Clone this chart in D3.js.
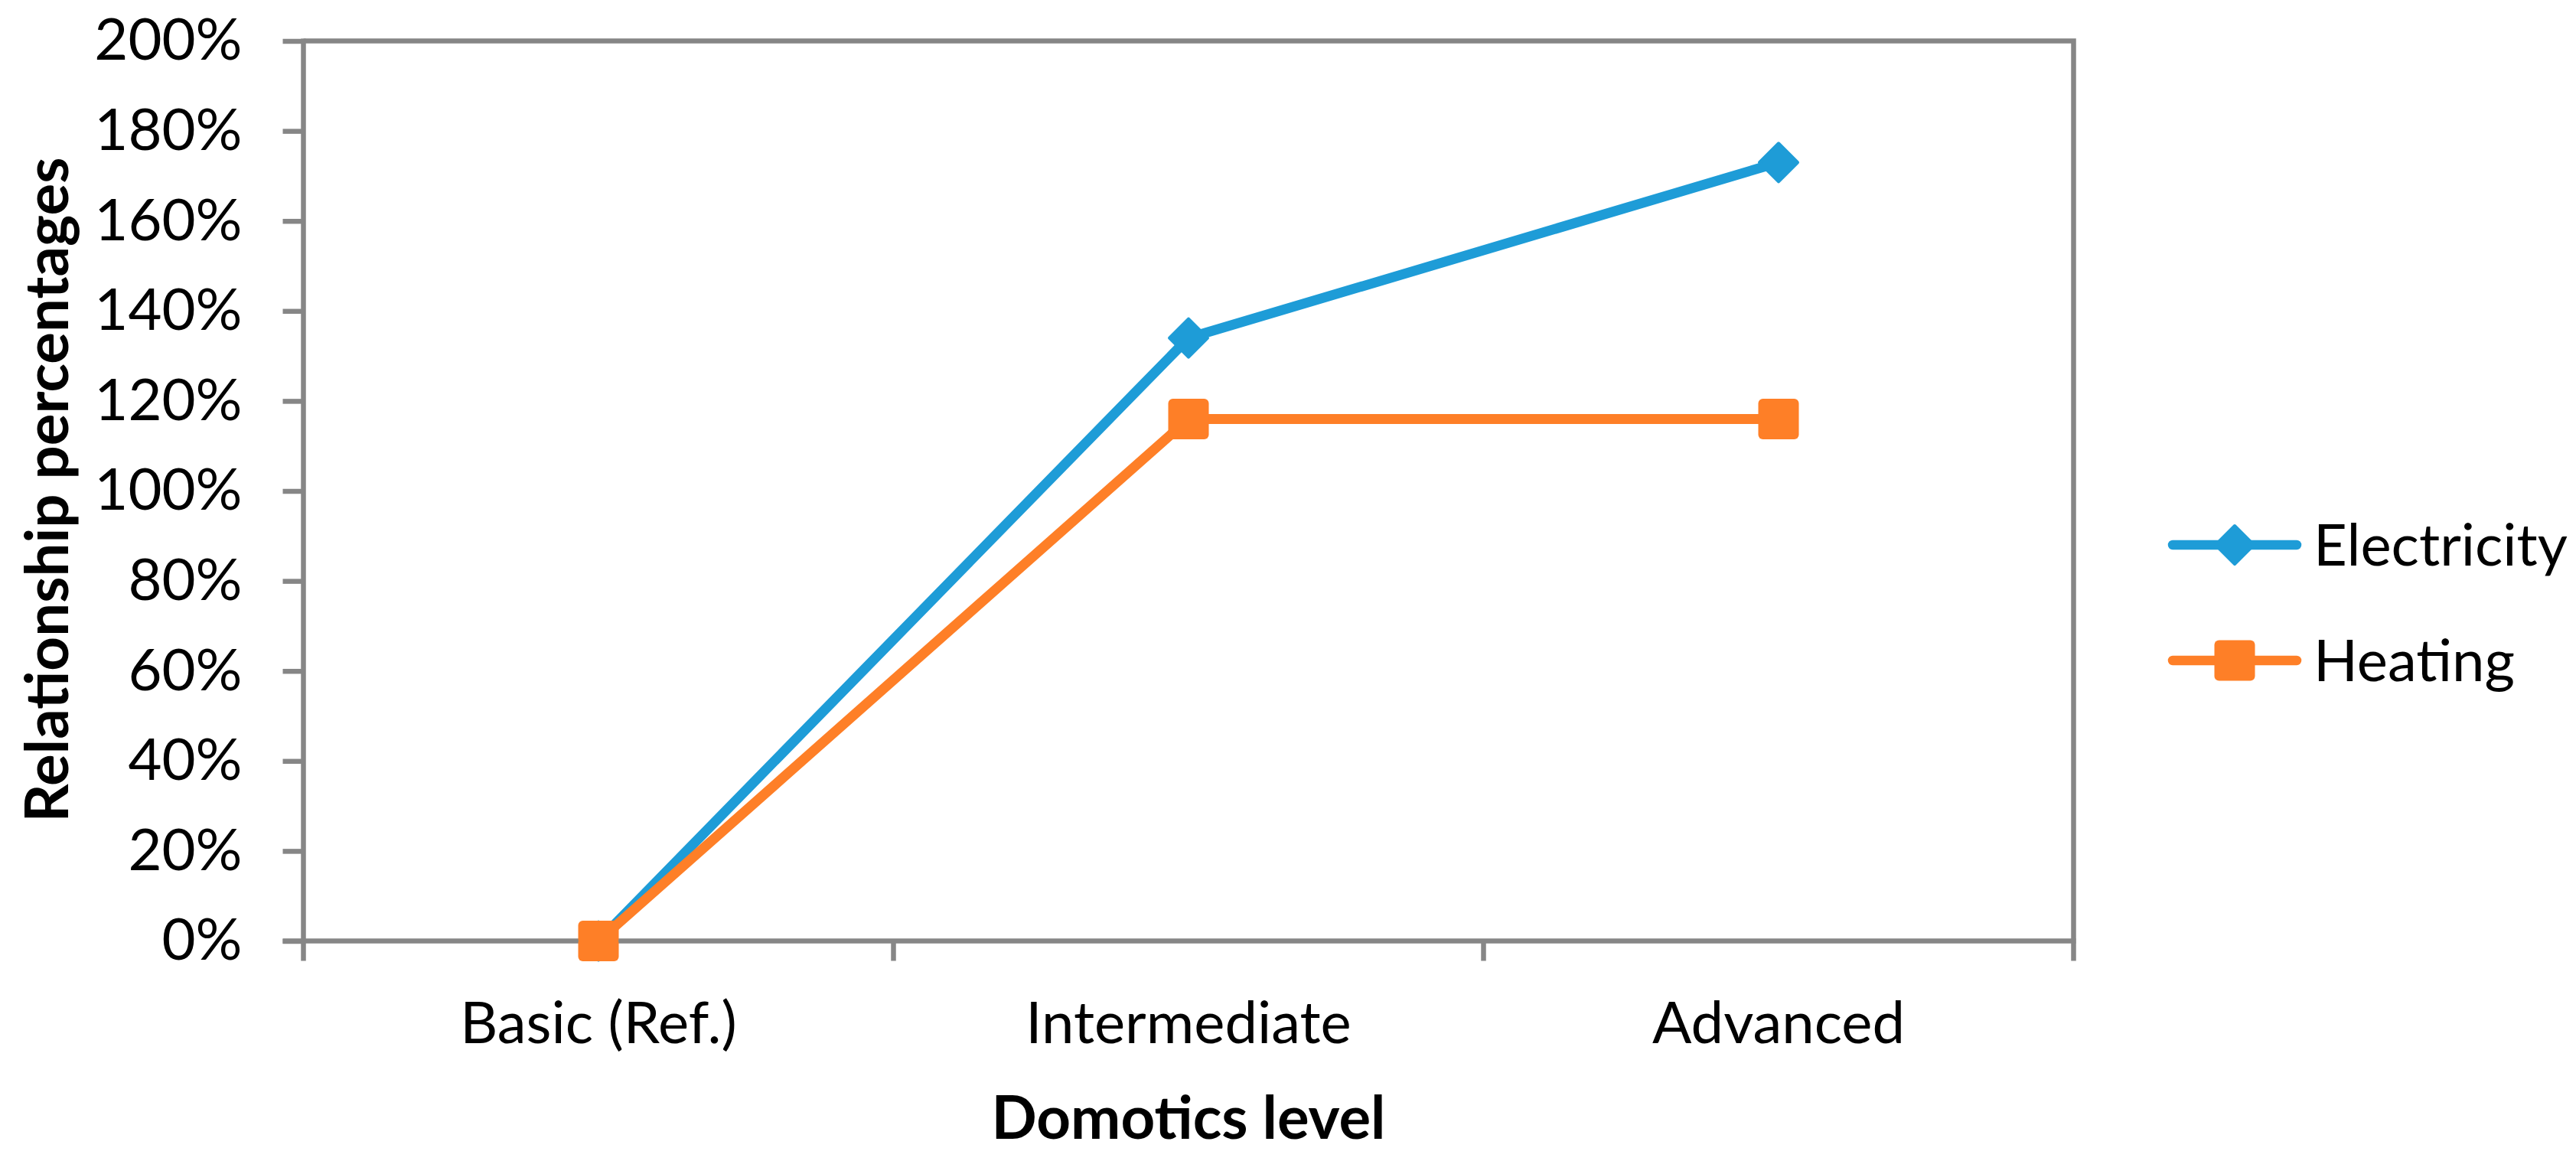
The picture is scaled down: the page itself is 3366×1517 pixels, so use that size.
<!DOCTYPE html>
<html>
<head>
<meta charset="utf-8">
<script src="https://cdn.jsdelivr.net/npm/d3@7"></script>
<style>
  html, body { margin: 0; padding: 0; background: #ffffff; }
  svg { display: block; }
  text { font-family: Lato, "Open Sans", "Noto Sans", sans-serif; fill: #000; }
</style>
</head>
<body>
<svg id="chart" width="3366" height="1517"></svg>
<script>
// ---- data ----
const categories = ["Basic (Ref.)", "Intermediate", "Advanced"];
const seriesNames = ["Electricity", "Heating"];
const electricity = [0, 134, 173];
const heating = [0, 116, 116];
const yTicks = [0, 20, 40, 60, 80, 100, 120, 140, 160, 180, 200];
const xTitle = "Domotics level";
const yTitle = "Relationship percentages";

// ---- styles ----
const colors = { Electricity: "#1E9CD7", Heating: "#FE7F27" };
const axisColor = "#868686";
const fontSize = 76;
const titleSize = 78;

const svg = d3.select("#chart");
svg.append("rect").attr("width", 3366).attr("height", 1517).attr("fill", "#fff");

const plot = { left: 396.5, right: 2709.5, top: 53.5, bottom: 1229.5 };

const x = d3.scaleBand().domain(categories).range([plot.left, plot.right]).padding(0);
const xc = c => x(c) + x.bandwidth() / 2;
const y = d3.scaleLinear().domain([0, 200]).range([plot.bottom, plot.top]);

// frame top & right
svg.append("path")
  .attr("d", `M${plot.left},${plot.top}H${plot.right}V${plot.bottom}`)
  .attr("fill", "none").attr("stroke", axisColor).attr("stroke-width", 6.5);

// Y axis
const yAxis = d3.axisLeft(y).tickValues(yTicks).tickSize(27).tickPadding(53)
  .tickFormat(d => d + "%");
const gy = svg.append("g").attr("transform", `translate(${plot.left},0)`).call(yAxis);
gy.select(".domain").remove();
gy.selectAll(".tick line").attr("stroke", axisColor).attr("stroke-width", 6.5);
gy.selectAll(".tick text").attr("font-size", fontSize).attr("font-family", "Lato, 'Open Sans', sans-serif").attr("fill", "#000");
gy.append("line").attr("x1", 0).attr("x2", 0).attr("y1", plot.top - 3).attr("y2", plot.bottom + 26)
  .attr("stroke", axisColor).attr("stroke-width", 6.5);

// X axis
const xAxis = d3.axisBottom(x).tickSize(0).tickPadding(0);
const gx = svg.append("g").attr("transform", `translate(0,${plot.bottom})`).call(xAxis);
gx.select(".domain").attr("stroke", axisColor).attr("stroke-width", 6.5)
  .attr("d", `M${plot.left - 27},0H${plot.right + 3}`);
gx.selectAll(".tick text").attr("font-size", fontSize).attr("font-family", "Lato, 'Open Sans', sans-serif")
  .attr("fill", "#000").attr("y", 133).attr("dy", 0);
// category boundary ticks
const boundaries = categories.map(c => x(c)).concat([x.range()[1]]);
gx.selectAll(".bt").data(boundaries.slice(1)).enter().append("line")
  .attr("x1", d => d).attr("x2", d => d).attr("y1", 0).attr("y2", 26)
  .attr("stroke", axisColor).attr("stroke-width", 6.5);

// axis titles
svg.append("text").attr("x", xc(categories[1])).attr("y", 1488)
  .attr("text-anchor", "middle").attr("font-size", titleSize).attr("font-weight", "bold").text(xTitle);
svg.append("text").attr("transform", `translate(89,640) rotate(-90)`)
  .attr("text-anchor", "middle").attr("font-size", titleSize).attr("font-weight", "bold").text(yTitle);

// series
const series = [
  { name: "Electricity", values: electricity, shape: "diamond" },
  { name: "Heating", values: heating, shape: "square" }
];
const line = d3.line().x((d, i) => xc(categories[i])).y(d => y(d));

function drawMarker(g, cx, cy, shape, color) {
  if (shape === "diamond") {
    const r = 25;
    g.append("path").attr("d", `M${cx},${cy - r}L${cx + r},${cy}L${cx},${cy + r}L${cx - r},${cy}Z`)
      .attr("fill", color).attr("stroke", color).attr("stroke-width", 4).attr("stroke-linejoin", "round");
  } else {
    const s = 53;
    g.append("rect").attr("x", cx - s / 2).attr("y", cy - s / 2).attr("width", s).attr("height", s)
      .attr("rx", 6).attr("fill", color);
  }
}

series.forEach(s => {
  const g = svg.append("g");
  g.append("path").datum(s.values).attr("d", line)
    .attr("fill", "none").attr("stroke", colors[s.name]).attr("stroke-width", 13)
    .attr("stroke-linejoin", "round");
  s.values.forEach((v, i) => drawMarker(g, xc(categories[i]), y(v), s.shape, colors[s.name]));
});

// legend
const legendY = [712, 863];
series.forEach((s, i) => {
  const g = svg.append("g");
  g.append("line").attr("x1", 2839).attr("x2", 3001).attr("y1", legendY[i]).attr("y2", legendY[i])
    .attr("stroke", colors[s.name]).attr("stroke-width", 12.5).attr("stroke-linecap", "round");
  drawMarker(g, 2920, legendY[i], s.shape, colors[s.name]);
  g.append("text").attr("x", 3023).attr("y", legendY[i]).attr("dy", "0.36em")
    .attr("font-size", fontSize).text(s.name);
});
</script>
</body>
</html>
